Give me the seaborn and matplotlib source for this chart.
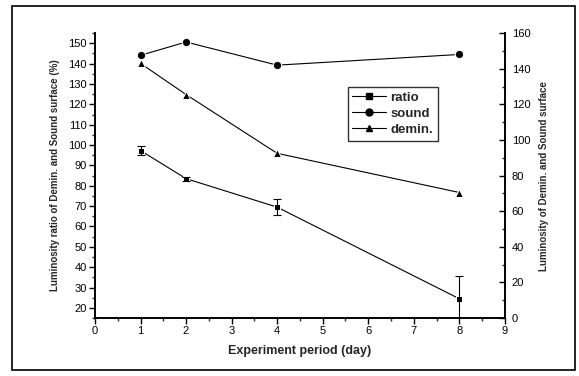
import numpy as np
import pandas as pd
import matplotlib
matplotlib.use('Agg')
import matplotlib.pyplot as plt
from matplotlib.patches import Rectangle
from matplotlib.lines import Line2D
from matplotlib.ticker import MultipleLocator
import seaborn as sns

# ── Data ──────────────────────────────────────────────────────────────────────
days = [1, 2, 4, 8]
ratio = [97.3, 83.5, 69.5, 24.5]        # left axis (%)
ratio_err = [2.0, 1.0, 4.0, 11.0]
sound = [147.5, 155.0, 142.0, 148.0]    # right axis
demin = [143.0, 125.5, 92.5, 70.5]      # right axis

sns.set_theme(style='white')
plt.rcParams['font.family'] = ['Liberation Sans', 'DejaVu Sans']

fig = plt.figure(figsize=(5.79, 3.76), dpi=100)
ax = fig.add_axes([0.164, 0.154, 0.708, 0.758])
ax2 = ax.twinx()

df_ratio = pd.DataFrame({'day': days, 'value': ratio})
df_right = pd.DataFrame({'day': days * 2,
                         'value': sound + demin,
                         'series': ['sound'] * 4 + ['demin.'] * 4})

# ratio on left axis
sns.lineplot(data=df_ratio, x='day', y='value', ax=ax, color='black',
             marker='s', markersize=5, linewidth=0.8, legend=False)
ax.errorbar(days, ratio, yerr=ratio_err, fmt='none', ecolor='black',
            elinewidth=0.8, capsize=3, capthick=0.8)

# sound and demin. on right axis
sns.lineplot(data=df_right, x='day', y='value', style='series', ax=ax2,
             color='black', markers={'sound': 'o', 'demin.': '^'},
             dashes=False, markersize=6, linewidth=0.8, legend=False)

ax.set_xlim(0, 9)
ax.set_ylim(15, 155)
ax2.set_ylim(0, 160)

ax.xaxis.set_major_locator(MultipleLocator(1))
ax.xaxis.set_minor_locator(MultipleLocator(0.5))
ax.yaxis.set_minor_locator(MultipleLocator(5))
ax.set_yticks(np.arange(20, 151, 10))
ax2.yaxis.set_major_locator(MultipleLocator(20))
ax2.yaxis.set_minor_locator(MultipleLocator(10))

for a in (ax, ax2):
    for s in a.spines.values():
        s.set_color('black')
        s.set_linewidth(1.2)
    a.spines['top'].set_visible(False)
    a.grid(False)

ax.tick_params(axis='both', which='major', direction='out', length=4, width=1,
               labelsize=8, colors='black', left=True, bottom=True, pad=2)
ax.tick_params(axis='both', which='minor', direction='out', length=2, width=1,
               left=True, bottom=True)
ax2.tick_params(axis='y', which='major', direction='in', length=4, width=1,
                labelsize=8, colors='black', right=True, pad=5)
ax2.tick_params(axis='y', which='minor', direction='in', length=2, width=1, right=True)

ax.set_xlabel('Experiment period (day)', fontsize=9, fontweight='bold', labelpad=6)
ax.set_ylabel('Luminosity ratio of Demin. and Sound surface (%)', fontsize=7,
              fontweight='bold', labelpad=6)
ax2.set_ylabel('Luminosity of Demin. and Sound surface', fontsize=7,
               fontweight='bold', labelpad=6)

# legend
handles = [Line2D([], [], color='black', lw=0.8, marker='s', markersize=4),
           Line2D([], [], color='black', lw=0.8, marker='o', markersize=5),
           Line2D([], [], color='black', lw=0.8, marker='^', markersize=5)]
leg = ax2.legend(handles, ['ratio', 'sound', 'demin.'], loc='upper left',
                 bbox_to_anchor=(0.6, 0.835), fontsize=9.5, frameon=True,
                 fancybox=False, edgecolor='black', handlelength=2.6,
                 handletextpad=0.3, borderpad=0.35, labelspacing=0.3)
leg.get_frame().set_linewidth(1.0)
for t in leg.get_texts():
    t.set_fontweight('bold')

# outer frame around the figure
fig.patches.append(Rectangle((12 / 579, 1 - 370 / 376), 563 / 579, 364 / 376,
                             transform=fig.transFigure, fill=False,
                             edgecolor='black', linewidth=1.2))

fig.savefig('out.png', dpi=100)
